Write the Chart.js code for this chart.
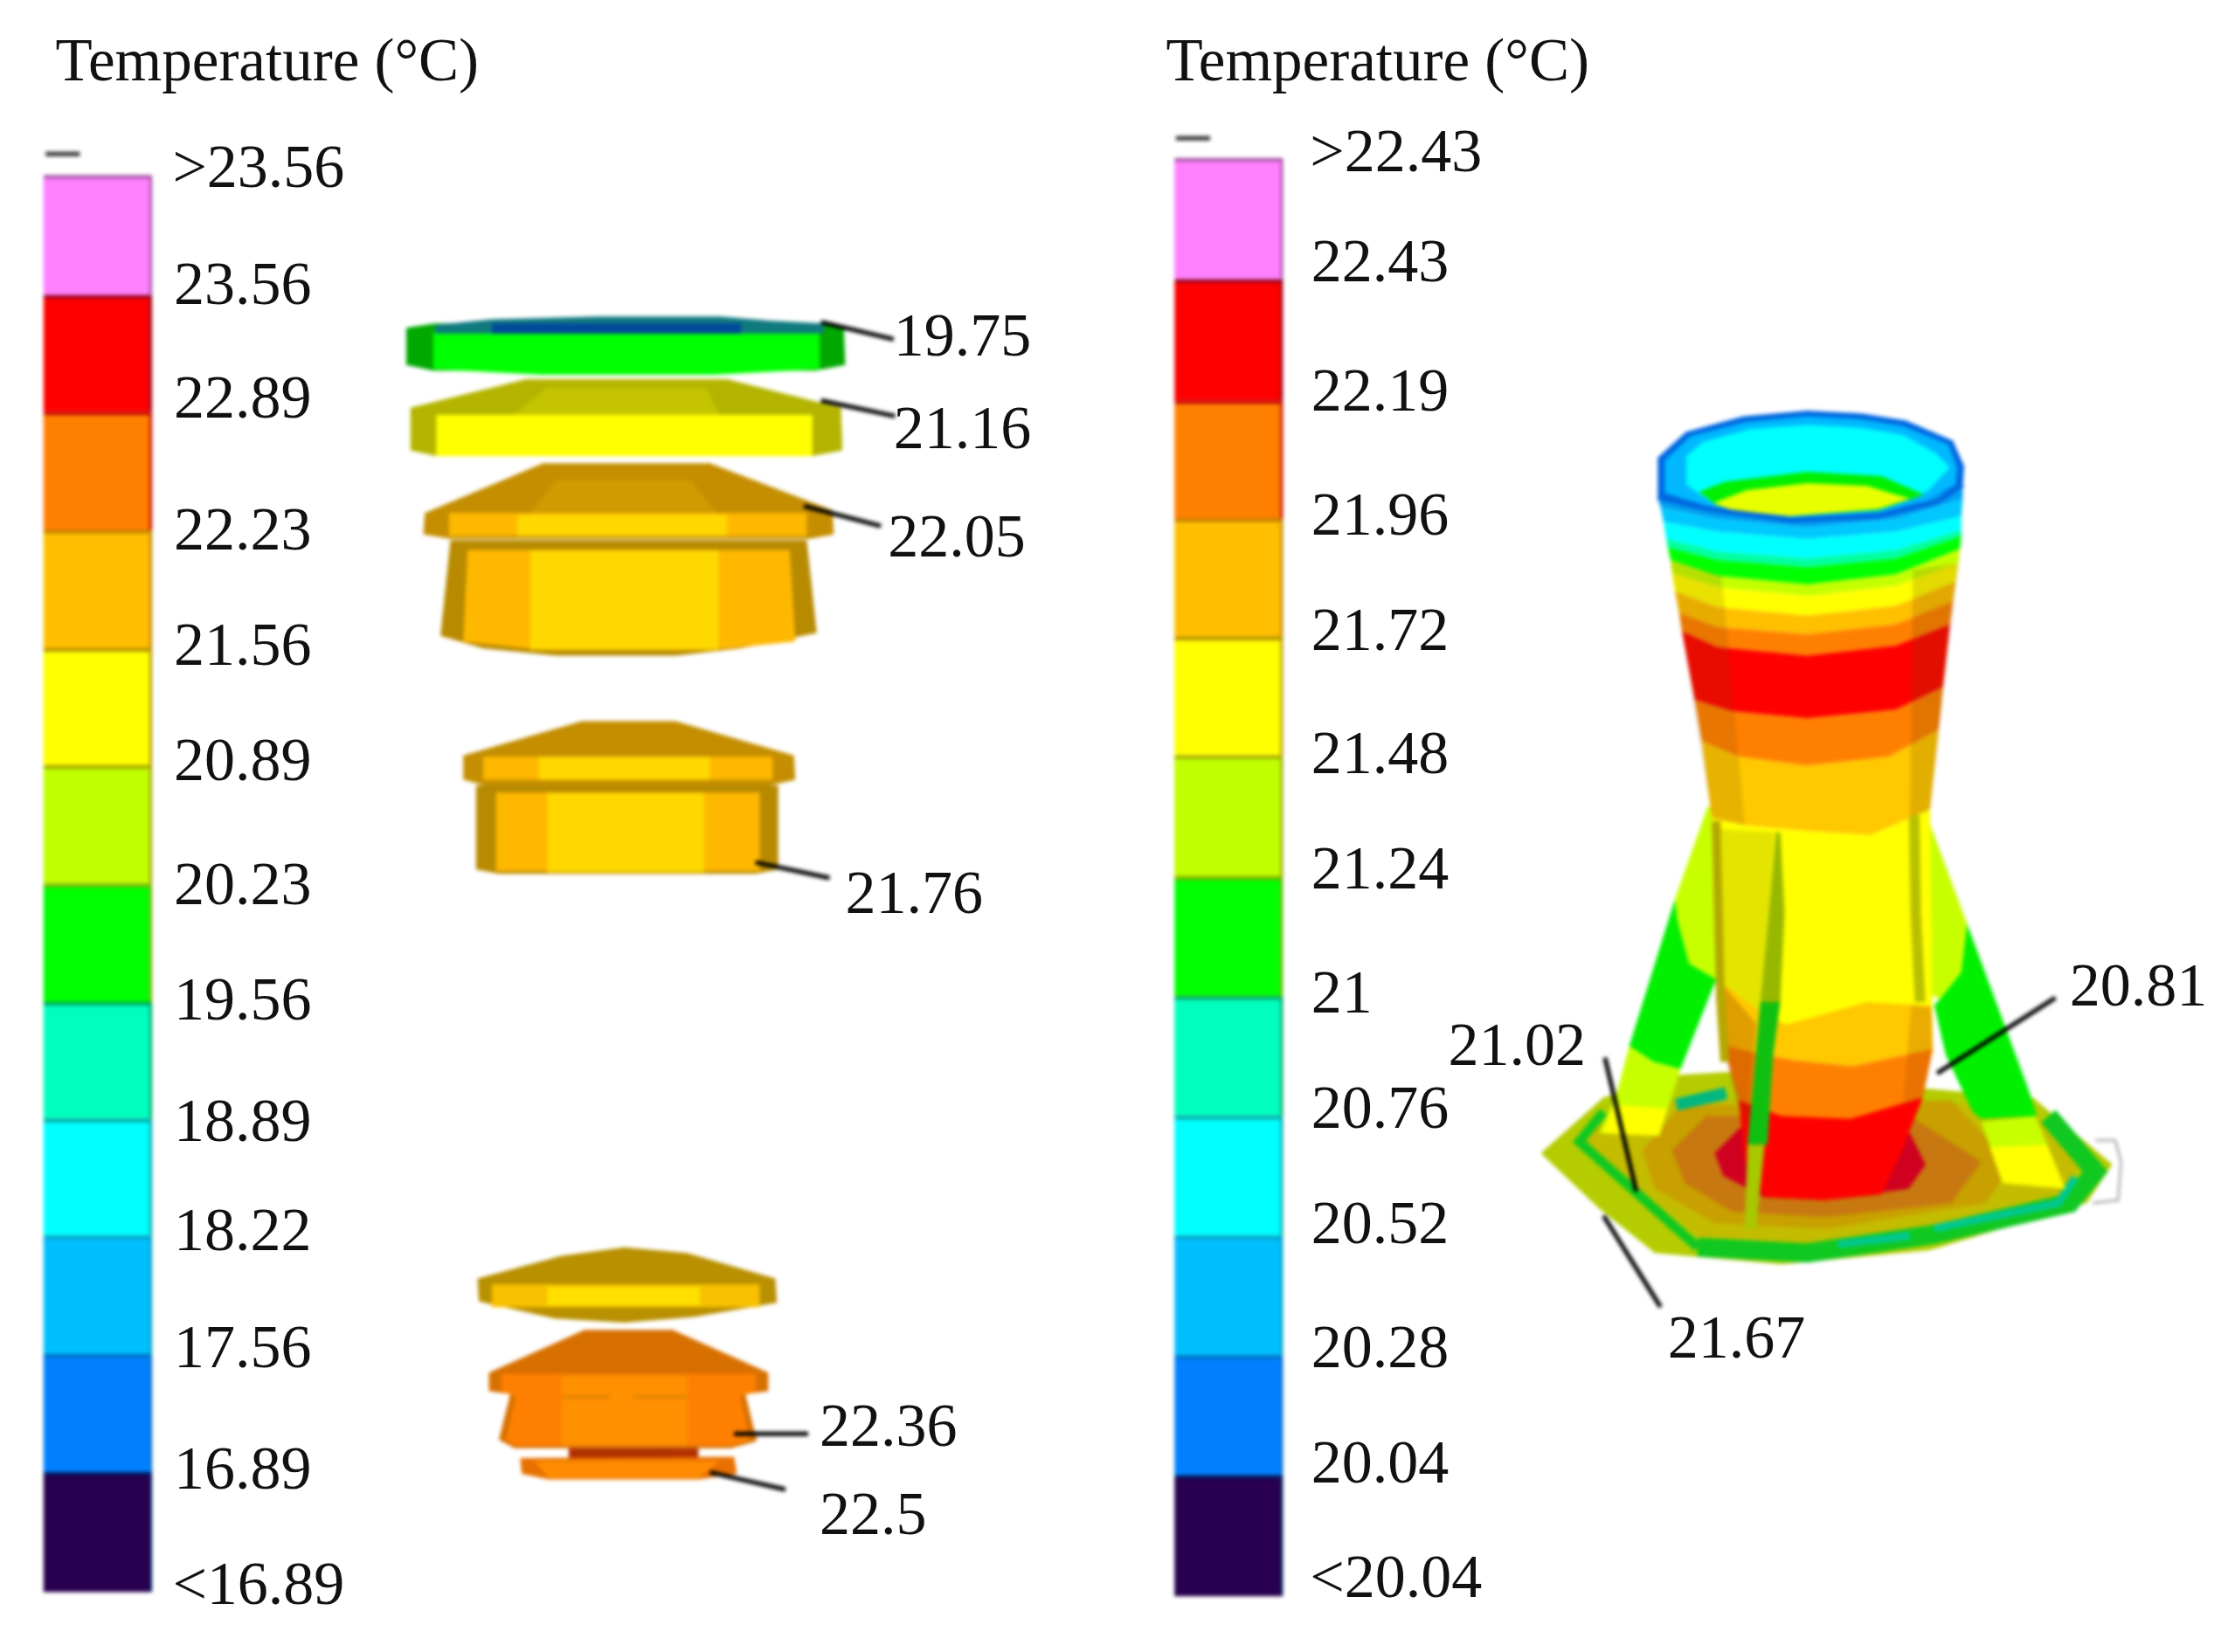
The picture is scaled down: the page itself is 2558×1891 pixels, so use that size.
<!DOCTYPE html>
<html>
<head>
<meta charset="utf-8">
<title>Temperature</title>
<script src="https://cdn.jsdelivr.net/npm/chart.js@4"></script>
<style>
  html, body { margin: 0; background: #fff; }
  canvas { display: block; }
</style>
</head>
<body>
<canvas id="fig" width="2558" height="1891"></canvas>
<script>
// colour key
const bandColors = ["#ff80ff", "#ff0000", "#ff8000", "#ffbf00", "#ffff00", "#bfff00", "#00ff00", "#00ffbf", "#00ffff", "#00bfff", "#0080ff", "#28004f"];
const bandEdgeColors = ["#a050a0", "#900020", "#c00000", "#c08000", "#b09000", "#a0a000", "#80b000", "#00a060", "#00a0a0", "#00a0c0", "#0070c0", "#001a60"];
const leftEdges = [123, 207, 289, 372, 455, 537, 620, 703, 785, 867, 950, 1033, 1117];
const rightEdges = [111, 196, 281, 364, 447, 530, 615, 699, 783, 867, 951, 1035, 1120];
const barCenters = [68.5, 862];

const leftLabels = [">23.56", "23.56", "22.89", "22.23", "21.56", "20.89", "20.23", "19.56", "18.89", "18.22", "17.56", "16.89", "<16.89"];
const leftLabelY = [117, 199, 279, 371, 452, 533, 620, 701, 786, 863, 945, 1030, 1111];
const rightLabels = [">22.43", "22.43", "22.19", "21.96", "21.72", "21.48", "21.24", "21", "20.76", "20.52", "20.28", "20.04", "<20.04"];
const rightLabelY = [106, 183, 274, 361, 442, 528, 609, 696, 777, 858, 945, 1026, 1106];

const callouts = [
  ["19.75", 627, 235], ["21.16", 627, 300], ["22.05", 623, 376], ["21.76", 593, 626],
  ["22.36", 575, 1000], ["22.5", 575, 1062], ["20.81", 1452, 691], ["21.02", 1016, 733], ["21.67", 1170, 938]
];
const leaders = [
  [[576, 226], [627, 238]], [[576, 281], [628, 292]], [[564, 355], [618, 369]], [[530, 605], [582, 616]],
  [[515, 1006], [567, 1006]], [[498, 1033], [551, 1045]], [[1359, 753], [1442, 700]], [[1126, 742], [1148, 836]], [[1125, 853], [1165, 917]]
];

// left stack, top disc down
const disc1 = [[285, 230], [305, 227], [575, 227], [592, 230], [593, 256], [572, 260], [304, 260], [285, 256]];
const disc1Face = [[304, 232], [575, 232], [575, 259], [500, 263], [380, 263], [304, 259]];
const disc1Top = [[305, 228], [345, 224], [420, 222], [505, 222], [540, 225], [578, 227], [578, 234], [305, 234]];
const disc1Blue = [[345, 227], [520, 227], [520, 234], [345, 234]];
const disc2 = [[288, 286], [369, 266], [510, 266], [590, 286], [591, 316], [570, 320], [306, 320], [288, 316]];
const disc2Facet = [[384, 272], [495, 272], [505, 291], [360, 291]];
const disc2Face = [[306, 291], [570, 291], [570, 320], [306, 320]];
const cap3 = [[381, 325], [498, 325], [584, 358], [585, 375], [568, 378], [316, 378], [297, 375], [298, 360]];
const cap3Facet = [[390, 337], [485, 337], [503, 360], [372, 360]];
const cap3Rim = [[315, 360], [566, 360], [566, 376], [315, 376]];
const cap3RimMid = [[363, 361], [510, 361], [510, 376], [363, 376]];
const body3 = [[316, 379], [566, 379], [573, 444], [519, 455], [474, 460], [390, 460], [339, 455], [309, 446]];
const body3Side = [[328, 386], [554, 386], [558, 450], [510, 455], [380, 456], [325, 450]];
const body3Mid = [[372, 386], [504, 386], [504, 456], [372, 456]];
const cap4 = [[408, 506], [474, 506], [557, 530], [558, 547], [540, 551], [340, 551], [325, 547], [325, 530]];
const cap4Rim = [[339, 531], [542, 531], [542, 547], [339, 547]];
const cap4RimMid = [[378, 531], [498, 531], [498, 547], [378, 547]];
const body4 = [[334, 551], [546, 551], [546, 610], [530, 613], [350, 613], [334, 610]];
const body4Side = [[348, 556], [533, 556], [533, 611], [348, 611]];
const body4Mid = [[384, 556], [494, 556], [494, 612], [384, 612]];
const lens = [[335, 897], [394, 881], [438, 875], [482, 879], [544, 897], [545, 914], [487, 924], [438, 928], [389, 925], [336, 913]];
const lensBand = [[345, 901], [533, 901], [533, 917], [345, 917]];
const lensMid = [[384, 903], [491, 903], [491, 916], [384, 916]];
const cap6 = [[410, 933], [472, 933], [539, 963], [539, 976], [523, 978], [531, 1011], [513, 1016], [361, 1016], [350, 1010], [358, 978], [343, 976], [343, 963]];
const cap6Face = [[352, 964], [530, 964], [530, 977], [519, 979], [526, 1010], [513, 1014], [361, 1014], [355, 1010], [362, 979], [352, 977]];
const cap6Mid = [[394, 965], [482, 965], [482, 1014], [394, 1014]];
const neck6 = [[399, 1016], [490, 1016], [490, 1023], [399, 1023]];
const disc7 = [[365, 1023], [515, 1022], [517, 1034], [490, 1038], [385, 1038], [366, 1034]];
const disc7Face = [[375, 1025], [505, 1025], [490, 1037], [385, 1037]];

// right model: base plate rings
const basePlate = [[1081, 809], [1125, 770], [1179, 754], [1212, 752], [1426, 770], [1482, 817], [1464, 844], [1354, 877], [1250, 887], [1161, 879], [1122, 848]];
const baseInner = [[1111, 801], [1127, 785], [1180, 770], [1420, 775], [1462, 815], [1445, 838], [1352, 860], [1266, 872], [1192, 868]];
const baseRingLeft = [[1191, 875], [1108, 801], [1125, 780]];
const baseRingLow = [[1191, 875], [1268, 879], [1357, 866], [1452, 844], [1470, 822], [1437, 783]];
const baseAmber = [[1152, 807], [1179, 776], [1369, 772], [1411, 817], [1393, 844], [1280, 862], [1203, 858], [1161, 834]];
const baseBrown = [[1173, 807], [1197, 783], [1340, 783], [1390, 815], [1369, 844], [1280, 854], [1215, 850], [1182, 830]];
const baseRed = [[1203, 809], [1221, 791], [1340, 795], [1351, 817], [1339, 834], [1280, 842], [1238, 840], [1209, 825]];
const tealBack = [[1176, 775], [1211, 767]];
const tealFront = [[1289, 873], [1340, 867]];
const tealRight = [[1357, 862], [1444, 844], [1456, 826]];
const tagOutline = [[1470, 800], [1484, 800], [1488, 815], [1486, 842], [1468, 844]];

// legs
const legLeftTop = [[1198, 566], [1207, 566], [1207, 692], [1204, 687], [1185, 676], [1177, 646], [1175, 631]];
const legLeftGreen = [[1175, 631], [1177, 646], [1185, 676], [1204, 687], [1179, 750], [1160, 745], [1143, 734]];
const legLeftLow = [[1143, 734], [1160, 745], [1179, 750], [1164, 797], [1122, 795], [1134, 768]];
const legLeftTip = [[1132, 775], [1170, 778], [1164, 797], [1124, 795]];
const legRightTop = [[1351, 570], [1380, 648], [1376, 682], [1361, 701], [1353, 697]];
const legRightGreen = [[1380, 648], [1423, 764], [1429, 783], [1390, 785], [1384, 780], [1365, 740], [1357, 705], [1361, 701], [1376, 682]];
const legRightLow = [[1390, 787], [1428, 783], [1449, 834], [1405, 830]];
const legRightTip = [[1396, 805], [1436, 803], [1449, 834], [1405, 830]];

// upper tube
const rimOuter = [[1163, 321], [1183, 303], [1223, 292], [1268, 288], [1306, 290], [1337, 295], [1370, 309], [1378, 327], [1377, 342], [1359, 353], [1318, 364], [1256, 367], [1198, 359], [1163, 350]];
const rimSky = [[1168, 323], [1186, 306], [1225, 296], [1268, 292], [1305, 294], [1335, 299], [1367, 312], [1373, 328], [1372, 340], [1352, 351], [1318, 360], [1256, 363], [1198, 355], [1168, 346]];
const rimCyan = [[1183, 320], [1195, 310], [1228, 301], [1268, 298], [1305, 300], [1335, 305], [1358, 318], [1368, 328], [1352, 345], [1318, 356], [1256, 362], [1200, 352], [1183, 340]];
const innerGreen = [[1192, 345], [1210, 338], [1268, 331], [1320, 334], [1350, 347], [1318, 358], [1256, 362], [1205, 355]];
const innerLens = [[1202, 353], [1225, 344], [1268, 339], [1310, 341], [1340, 350], [1318, 357], [1256, 362], [1215, 358]];
const rimFront = [[1163, 349], [1198, 357], [1256, 365], [1318, 362], [1359, 352], [1377, 340]];
const tubeEdges = [
  [[1163, 349], [1205, 360], [1268, 366], [1330, 360], [1377, 340]],
  [[1165, 356], [1205, 364], [1268, 370], [1330, 364], [1377, 350]],
  [[1167, 366], [1205, 373], [1268, 378], [1330, 373], [1376, 362]],
  [[1169, 378], [1205, 387], [1268, 392], [1330, 386], [1376, 372]],
  [[1170, 384], [1205, 393], [1268, 398], [1330, 392], [1376, 376]],
  [[1172, 393], [1205, 404], [1268, 410], [1330, 403], [1375, 385]],
  [[1173, 402], [1205, 412], [1268, 418], [1330, 411], [1374, 395]],
  [[1175, 415], [1205, 426], [1268, 432], [1330, 425], [1372, 408]],
  [[1178, 430], [1205, 440], [1268, 445], [1330, 438], [1370, 422]],
  [[1180, 443], [1205, 454], [1268, 460], [1330, 453], [1368, 438]],
  [[1189, 491], [1215, 499], [1268, 504], [1330, 498], [1363, 482]],
  [[1194, 520], [1220, 531], [1268, 537], [1325, 531], [1360, 512]],
  [[1201, 574], [1225, 579], [1268, 583], [1312, 586], [1354, 568]]
];
const tubeBandColors = ["#00a0f0", "#00c8ff", "#00ffff", "#00ffa0", "#00ff00", "#c4ff00", "#ffff00", "#ffc000", "#ff8000", "#ff0000", "#ff8000", "#ffc800"];
const tubeShadeLeft = [[1172, 393], [1208, 404], [1224, 579], [1201, 574]];
const tubeShadeRight = [[1342, 400], [1374, 395], [1354, 568], [1340, 574]];

// lower tube
const tubeYellow = [[1201, 574], [1225, 579], [1268, 583], [1312, 586], [1354, 568], [1356, 740], [1207, 740]];
const facetLeft = [[1207, 582], [1245, 584], [1241, 640], [1235, 703], [1232, 718], [1209, 690]];
const tubeAmber = [[1207, 689], [1236, 710], [1253, 719], [1310, 703], [1341, 705], [1355, 706], [1356, 736], [1300, 748], [1259, 744], [1228, 738], [1209, 733]];
const tubeOrange = [[1209, 733], [1228, 738], [1259, 744], [1300, 748], [1356, 736], [1349, 770], [1298, 785], [1250, 783], [1220, 772]];
const tubeRed = [[1220, 772], [1250, 783], [1298, 785], [1349, 770], [1333, 810], [1320, 838], [1280, 842], [1238, 840], [1224, 815]];
const tubeLowShade = [[1207, 689], [1232, 718], [1226, 790], [1218, 772], [1209, 733]];
const tubeLowShadeRight = [[1341, 705], [1355, 706], [1356, 736], [1349, 770], [1335, 776]];
const spikeTop = [[1246, 584], [1249, 584], [1252, 640], [1249, 703], [1235, 703], [1241, 640]];
const spikeGreen = [[1235, 703], [1249, 703], [1244, 740], [1240, 803], [1226, 803], [1229, 770]];
const spikeLow = [[1226, 803], [1238, 803], [1232, 862], [1224, 862]];
const strutLeft = [[1204, 576], [1207, 700], [1210, 745]];
const strutRight = [[1343, 572], [1344, 640], [1347, 703]];

const leftFills = [
  [disc1, "#00a800"], [disc1Face, "#00ff00"], [disc1Top, "#107a80"], [disc1Blue, "#004a9a"],
  [disc2, "#b4b400"], [disc2Facet, "#c4c400"], [disc2Face, "#ffff00"],
  [cap3, "#c48e00"], [cap3Facet, "#d09a00"], [cap3Rim, "#ffb800"], [cap3RimMid, "#ffd800"],
  [body3, "#b88a00"], [body3Side, "#ffb800"], [body3Mid, "#ffd800"],
  [cap4, "#c48e00"], [cap4Rim, "#ffb800"], [cap4RimMid, "#ffd800"],
  [body4, "#b88a00"], [body4Side, "#ffb800"], [body4Mid, "#ffd800"],
  [lens, "#b89000"], [lensBand, "#f8c000"], [lensMid, "#ffe000"],
  [cap6, "#d87000"], [cap6Face, "#ff8000"], [cap6Mid, "#ff9000"], [neck6, "#b03000"],
  [disc7, "#e87000"], [disc7Face, "#ff8c00"]
];
const baseFills = [
  [basePlate, "#b4cc00"], [baseInner, "#c4bc00"], [baseAmber, "#c8a000"], [baseBrown, "#c87810"], [baseRed, "#d00020"]
];
const baseStrokes = [
  [baseRingLeft, "#10c820", 11], [baseRingLow, "#10c820", 22],
  [tealBack, "#00b880", 14], [tealFront, "#00c890", 9], [tealRight, "#00c890", 9],
  [tagOutline, "#b4b4b4", 3]
];
const legFills = [
  [legLeftTop, "#c8ff00"], [legLeftGreen, "#00f000"], [legLeftLow, "#c8ff00"], [legLeftTip, "#ffff00"],
  [legRightTop, "#c8ff00"], [legRightGreen, "#00f000"], [legRightLow, "#c8ff00"], [legRightTip, "#ffff00"]
];
const rimFills = [
  [rimOuter, "#0068e0"], [rimSky, "#00b8ff"], [rimCyan, "#00ffff"], [innerGreen, "#00f000"], [innerLens, "#e8ff00"]
];
const lowFills = [
  [tubeYellow, "#ffff00"], [facetLeft, "#e4e400"], [tubeAmber, "#ffc800"], [tubeOrange, "#ff8000"], [tubeRed, "#ff0000"],
  [tubeLowShade, "rgba(150,60,0,0.3)"], [tubeLowShadeRight, "rgba(150,60,0,0.2)"],
  [spikeTop, "#98b800"], [spikeGreen, "#10c010"], [spikeLow, "#a8c800"]
];
const topStrokes = [
  [strutLeft, "#b4a800", 10], [strutRight, "#b8c000", 12],
  [[[394, 980], [428, 980]], "#d88000", 3], [[[444, 980], [482, 980]], "#d88000", 3],
  [[[32, 108], [56, 108]], "#333", 5], [[[825, 97], [849, 97]], "#333", 5]
];

const pts = list => list.map(p => ({ x: p[0], y: p[1] }));

const datasets = [];

// the two colour keys share one floating bar dataset
const barData = [], barBg = [], barBorder = [];
[leftEdges, rightEdges].forEach((edges, k) => {
  bandColors.forEach((c, i) => {
    barData.push({ x: barCenters[k], y: [edges[i], edges[i + 1]] });
    barBg.push(c);
    barBorder.push(bandEdgeColors[i]);
  });
});
datasets.push({
  type: "bar",
  data: barData,
  backgroundColor: barBg,
  borderColor: barBorder,
  borderWidth: { top: 4, right: 3, bottom: 0, left: 0 },
  borderSkipped: false,
  barThickness: 124,
  order: 1
});

// chart.js draws higher order first, so count down along the paint order
let order = 5000;
function addFill(f) {
  datasets.push({
    type: "scatter",
    data: pts(f[0]),
    showLine: true,
    fill: "shape",
    backgroundColor: f[1],
    borderColor: f[1],
    borderWidth: 0,
    pointRadius: 0,
    order: order--
  });
}
function addLine(s) {
  datasets.push({
    type: "scatter",
    data: pts(s[0]),
    showLine: true,
    fill: false,
    borderColor: s[1],
    borderWidth: s[2],
    pointRadius: 0,
    order: order--
  });
}

leftFills.forEach(addFill);
baseFills.forEach(addFill);
baseStrokes.forEach(addLine);
legFills.forEach(addFill);
rimFills.forEach(addFill);
tubeBandColors.forEach((c, i) => addFill([tubeEdges[i].concat(tubeEdges[i + 1].slice().reverse()), c]));
addLine([rimFront, "#0068e0", 6]);
addFill([tubeShadeLeft, "rgba(110,70,0,0.16)"]);
addFill([tubeShadeRight, "rgba(110,70,0,0.2)"]);
lowFills.forEach(addFill);
topStrokes.forEach(addLine);
leaders.forEach(l => addLine([l, "#000", 5]));

const paper = {
  id: "paper",
  beforeDraw(chart) {
    const c = chart.ctx;
    c.save();
    c.fillStyle = "#fff";
    c.fillRect(0, 0, chart.width, chart.height);
    c.restore();
  },
  // the reference is a soft, upscaled bitmap
  afterDatasetsDraw(chart) {
    const c = chart.ctx;
    c.save();
    c.filter = "blur(2px)";
    c.drawImage(chart.canvas, 0, 0);
    c.restore();
  },
  afterDraw(chart) {
    const c = chart.ctx, sx = chart.scales.x, sy = chart.scales.y;
    c.save();
    c.fillStyle = "#111";
    c.textBaseline = "middle";
    c.filter = "blur(0.5px)";
    c.font = "70px 'Liberation Serif'";
    const put = (t, x, y) => c.fillText(t, sx.getPixelForValue(x), sy.getPixelForValue(y + 3));
    leftLabels.forEach((t, i) => put(t, t[0] === ">" || t[0] === "<" ? 121 : 122, leftLabelY[i]));
    rightLabels.forEach((t, i) => put(t, t[0] === ">" || t[0] === "<" ? 919 : 920, rightLabelY[i]));
    callouts.forEach(o => put(o[0], o[1], o[2]));
    c.font = "69px 'Liberation Serif'";
    put("Temperature (°C)", 39, 42);
    put("Temperature (°C)", 818, 42);
    c.restore();
  }
};

new Chart(document.getElementById("fig").getContext("2d"), {
  type: "scatter",
  data: { datasets },
  plugins: [paper],
  options: {
    responsive: false,
    animation: false,
    layout: { padding: 0 },
    plugins: { legend: { display: false }, tooltip: { enabled: false } },
    scales: {
      x: { type: "linear", min: 0, max: 1568, display: false, offset: false },
      y: { type: "linear", min: 0, max: 1159, reverse: true, display: false }
    }
  }
});
</script>
</body>
</html>
